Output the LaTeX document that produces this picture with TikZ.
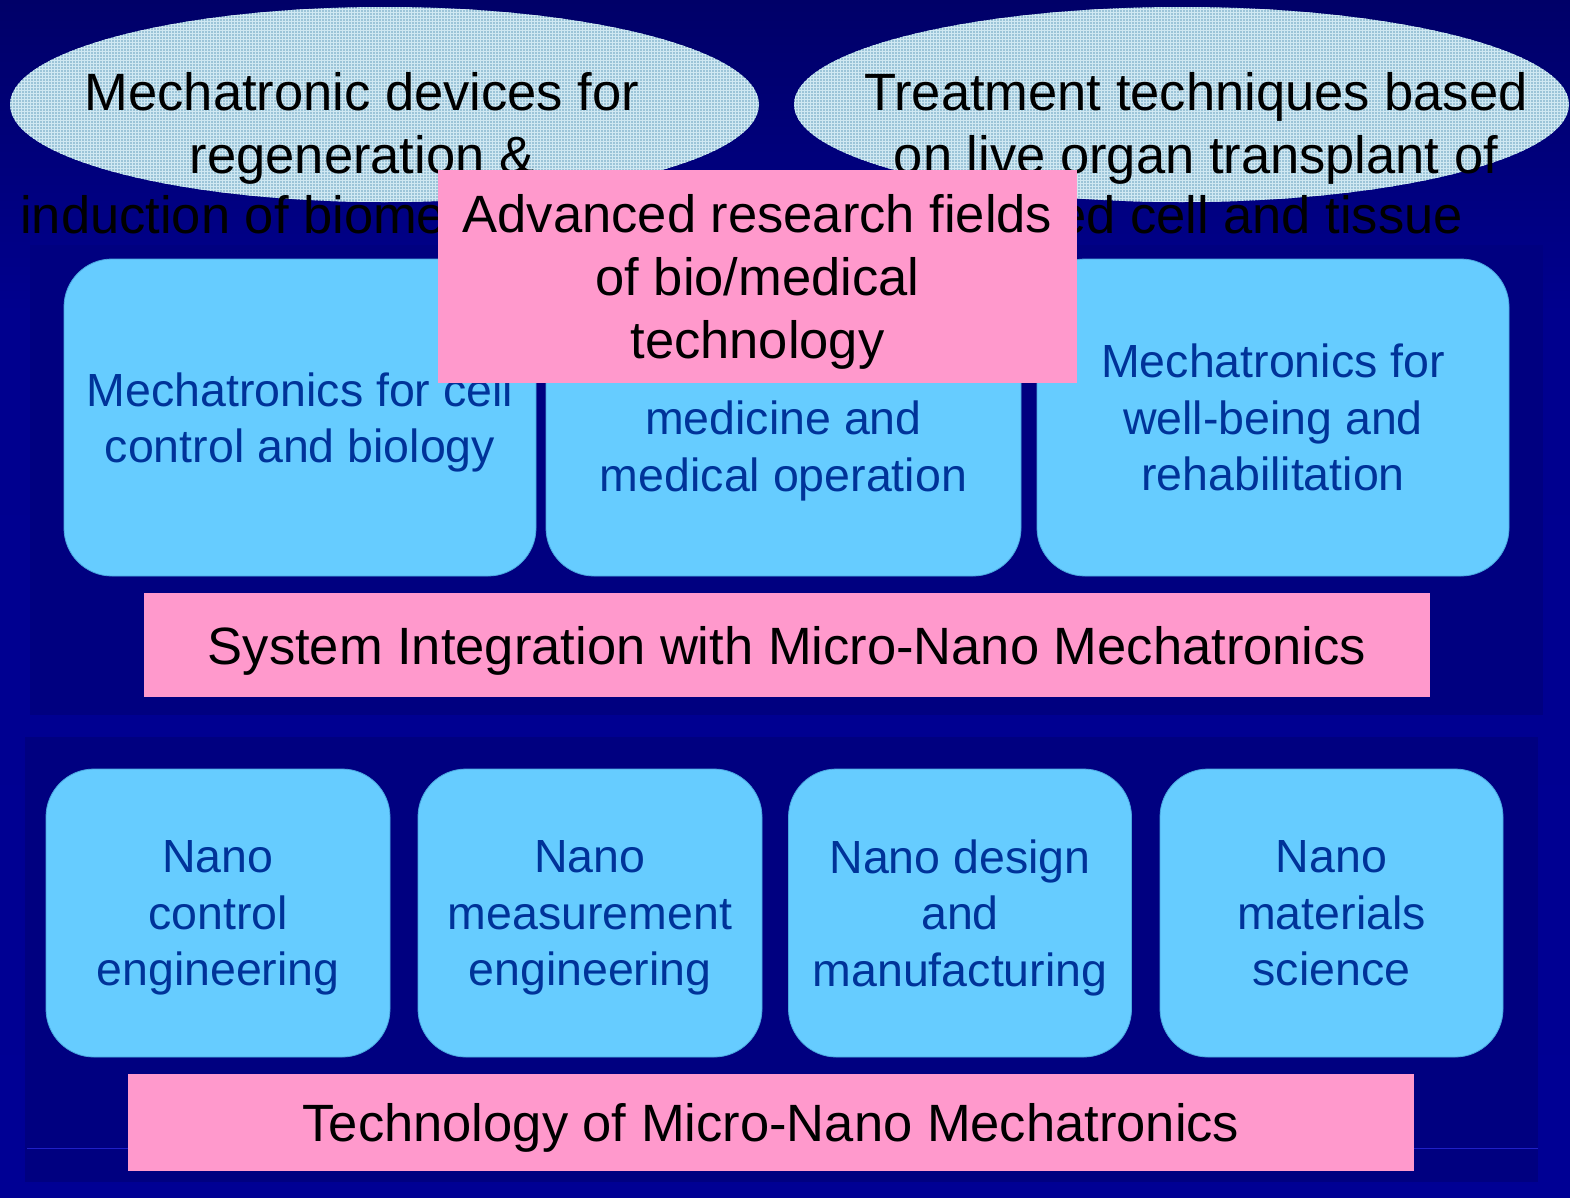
\documentclass[tikz,border=0pt]{standalone}
\usepackage{fontspec}
\setmainfont{Liberation Sans}
\usetikzlibrary{shapes.geometric,patterns}

\definecolor{skytop}{HTML}{00001F}
\definecolor{skymid}{HTML}{00008E}
\definecolor{skybottom}{HTML}{000099}
\definecolor{panelnavy}{HTML}{000080}
\definecolor{cellfill}{HTML}{66CCFF}
\definecolor{celledge}{HTML}{4AA8E0}
\definecolor{celltext}{HTML}{003399}
\definecolor{bannerpink}{HTML}{FF99CC}
\definecolor{goalfill}{HTML}{9CC4D8}
\definecolor{goalgrid}{HTML}{D0E8F2}
\definecolor{guideline}{HTML}{2020C8}

\pgfdeclareverticalshading{nightsky}{100bp}{color(0bp)=(skybottom); color(62bp)=(skymid); color(100bp)=(skytop)}

\begin{document}
\begin{tikzpicture}[x=1pt,y=-1pt,
  cellbox/.style={rectangle, rounded corners=48pt, fill=cellfill, draw=celledge,
    line width=0.8pt, text=celltext, font=\fontsize{46.5}{56.5}\selectfont,
    align=center, inner sep=0pt, text depth=0pt},
  banner/.style={rectangle, fill=bannerpink, text=black,
    font=\fontsize{52.5}{63}\selectfont, align=center, inner sep=0pt, text depth=0pt},
  goal/.style={ellipse, inner sep=0pt,
    preaction={fill=goalfill}, pattern=grid, pattern color=goalgrid},
  goaltext/.style={inner sep=0pt, text=black, font=\fontsize{52.5}{62}\selectfont}]

\useasboundingbox (0,0) rectangle (1570,1197);

% background and the two panels
\shade[shading=nightsky] (0,0) rectangle (1570,1197);
\fill[panelnavy] (30,245) rectangle (1543,715);
\fill[panelnavy] (25,737) rectangle (1538,1182);

% base technologies
\coordinate (gl) at (27,1148);
\coordinate (gr) at (1538,1148);
\draw[guideline, line width=1pt] (gl) -- (gr);

\node[cellbox, minimum width=344pt, minimum height=288pt] (nano1) at (218,913)
  {Nano\\control\\engineering};
\node[cellbox, minimum width=344pt, minimum height=288pt] (nano2) at (590,913)
  {Nano\\measurement\\engineering};
\node[cellbox, minimum width=343pt, minimum height=288pt] (nano3) at (960,913)
  {Nano design\\and\\manufacturing};
\node[cellbox, minimum width=343pt, minimum height=288pt] (nano4) at (1331.5,913)
  {Nano\\materials\\science};

\node[banner, minimum width=1286pt, minimum height=97pt] (tech) at (771,1122.5)
  {Technology of Micro-Nano Mechatronics};

% integrated systems
\node[cellbox, minimum width=472pt, minimum height=317pt] (cell) at (300,417.5)
  {Mechatronics for cell\\control and biology};
\node[cellbox, minimum width=475pt, minimum height=317pt] (med) at (783.5,417.5)
  {\rule{0pt}{34pt}\\medicine and\\medical operation};
\node[cellbox, minimum width=472pt, minimum height=317pt] (rehab) at (1273,417.5)
  {Mechatronics for\\well-being and\\rehabilitation};

\node[banner, minimum width=1286pt, minimum height=104pt] (sys) at (787,645)
  {System Integration with Micro-Nano Mechatronics};

% goals
\node[goal, minimum width=749pt, minimum height=195pt] (goalA) at (384.5,104.5) {};
\node[goal, minimum width=775pt, minimum height=195pt] (goalB) at (1181.5,104.5) {};

\node[goaltext, anchor=base] (goalA1) at (362,110) {Mechatronic devices for};
\node[goaltext, anchor=base] (goalA2) at (362,173) {regeneration \&};
\node[goaltext, anchor=base west] (goalA3) at (20,233) {induction of biome};

\node[goaltext, anchor=base] (goalB1) at (1196,110) {Treatment techniques based};
\node[goaltext, anchor=base] (goalB2) at (1196,173) {on live organ transplant of};
\node[goaltext, anchor=base east] (goalB3) at (1463,233) {ed cell and tissue};

% title banner on top
\node[banner, minimum width=639pt, minimum height=213pt] (adv) at (757.5,276.5)
  {Advanced research fields\\of bio/medical\\technology};

\end{tikzpicture}
\end{document}
